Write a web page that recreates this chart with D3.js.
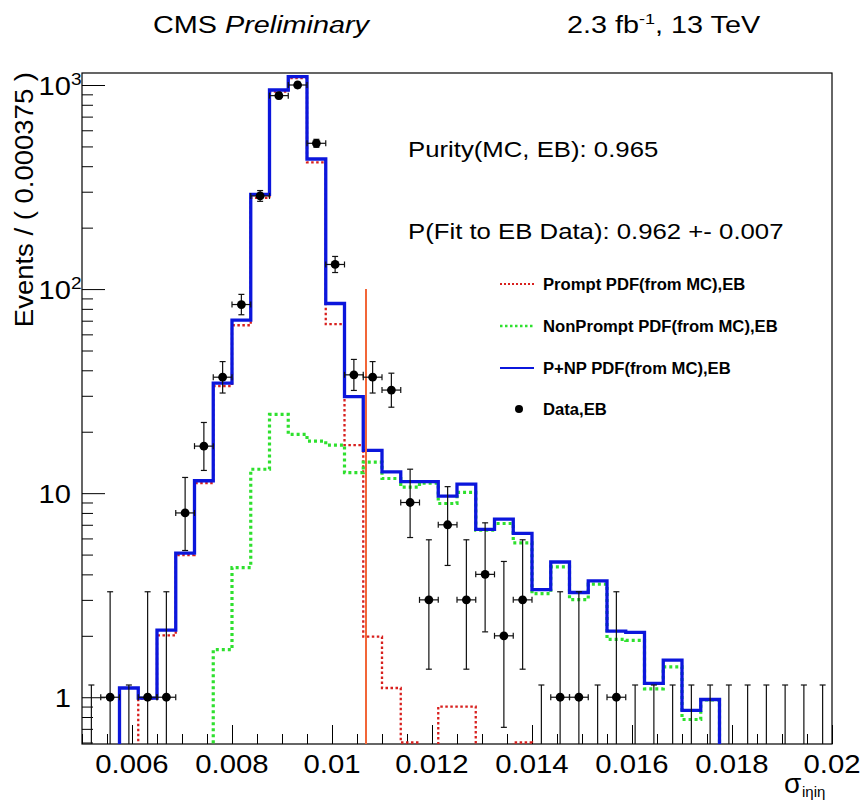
<!DOCTYPE html>
<html>
<head>
<meta charset="utf-8">
<script src="https://cdn.jsdelivr.net/npm/d3@7"></script>
<style>
  body { margin: 0; background: #fff; }
  svg { display: block; }
  text { font-family: "Liberation Sans", Arial, Helvetica, sans-serif; fill: #000; }
</style>
</head>
<body>
<script>
// binning of sigma_ieta_ieta (40 bins of 0.000375)
var xMin = 0.005, xMax = 0.02, binWidth = 0.000375;

// observed events per bin (EB data)
var dataCounts = [0, 1, 0, 1, 1, 8, 17, 37, 84, 286,
  887, 1000, 518, 132, 38, 37, 32, 9, 3, 7,
  3, 4, 2, 3, 0, 1, 1, 0, 1, 0,
  0, 0, 0, 0, 0, 0, 0, 0, 0, 0];

// prompt template (from MC), 0 = below the plot
var promptPdf = [0, 0, 0, 0.985, 2.01, 4.97, 11.2, 33.5, 66.5, 280,
  927, 1080, 418, 67.3, 17.2, 1.98, 1.11, 0.6, 0, 0.9,
  0.9, 0, 0, 0.6, 0, 0, 0, 0, 0, 0,
  0, 0, 0, 0, 0, 0, 0, 0, 0, 0];

// non-prompt template (from MC)
var nonPromptPdf = [0, 0, 0, 0, 0, 0, 0, 1.71, 4.32, 13.1,
  24.3, 19.4, 18.0, 17.2, 12.6, 14.2, 11.8, 10.7, 11.2, 8.9,
  10.1, 6.59, 7.1, 5.71, 3.22, 4.35, 3.01, 3.58, 1.92, 1.9,
  1.1, 1.41, 0.778, 0.97, 0, 0, 0, 0, 0, 0];

// P+NP fit
var totalPdf = [0, 0, 1.11, 0.99, 2.13, 5.08, 11.5, 34.6, 70.5, 291,
  945, 1099, 434, 85, 29.7, 16.2, 12.7, 11.4, 11.4, 9.67,
  11.07, 6.64, 7.46, 6.35, 3.37, 4.6, 3.26, 3.72, 2.11, 2.08,
  1.17, 1.52, 0.863, 0.975, 0, 0, 0, 0, 0, 0];

var xMajorTicks = [0.006, 0.008, 0.01, 0.012, 0.014, 0.016, 0.018, 0.02];
var xTickLabels = ["0.006", "0.008", "0.01", "0.012", "0.014", "0.016", "0.018", "0.02"];
var yTickValues = [1, 10, 100, 1000];
var yTickBase = ["1", "10", "10", "10"];
var yTickSup = ["", "", "2", "3"];

var cutValue = 0.01068, cutTop = 100;

var legendLabels = ["Prompt PDF(from MC),EB", "NonPrompt PDF(from MC),EB", "P+NP PDF(from MC),EB", "Data,EB"];

var W = 864, H = 805;
var margin = { top: 73, right: 32, bottom: 61, left: 82 };

var x = d3.scaleLinear().domain([xMin, xMax]).range([margin.left, W - margin.right]);
var y = d3.scaleLog().domain([0.59, 1145]).range([H - margin.bottom, margin.top]);

var svg = d3.select("body").append("svg").attr("width", W).attr("height", H);

svg.append("clipPath").attr("id", "plotclip")
  .append("rect")
  .attr("x", margin.left).attr("y", margin.top)
  .attr("width", W - margin.left - margin.right)
  .attr("height", H - margin.top - margin.bottom);

// text helper: the reference font is a bit wider than Helvetica, so stretch in x
function addText(parent, px, py, str, opts) {
  opts = opts || {};
  var g = parent.append("g")
    .attr("transform", "translate(" + px + "," + py + ")" +
      (opts.rotate ? " rotate(" + opts.rotate + ")" : "") +
      " scale(" + (opts.sx || 1.15) + ",1)");
  return g.append("text")
    .attr("text-anchor", opts.anchor || "start")
    .attr("font-size", opts.size || 20)
    .attr("font-weight", opts.weight || "normal")
    .attr("font-style", opts.style || "normal")
    .text(str);
}

// ---- axes (ticks only, frame drawn separately) ----
var yMinor = [];
[0.1, 1, 10, 100, 1000].forEach(function(d) {
  for (var k = 2; k <= 9; k++) {
    var v = k * d;
    if (v > 0.59 && v < 1145) yMinor.push(v);
  }
});
var xMinor = d3.range(0, 31).map(function(i) { return xMin + i * 0.0005; })
  .filter(function(v) { return Math.abs(v / 0.002 - Math.round(v / 0.002)) > 1e-6; });

function tickAxis(axis) {
  var g = svg.append("g").call(axis);
  g.select(".domain").remove();
  g.selectAll("line").attr("stroke", "#000").attr("stroke-width", 1);
  return g;
}

tickAxis(d3.axisLeft(y).tickValues(yTickValues).tickSize(-23).tickFormat(""))
  .attr("transform", "translate(" + margin.left + ",0)");
tickAxis(d3.axisLeft(y).tickValues(yMinor).tickSize(-11).tickFormat(""))
  .attr("transform", "translate(" + margin.left + ",0)");
tickAxis(d3.axisBottom(x).tickValues(xMajorTicks).tickSize(-19).tickFormat(""))
  .attr("transform", "translate(0," + (H - margin.bottom) + ")");
tickAxis(d3.axisBottom(x).tickValues(xMinor).tickSize(-10).tickFormat(""))
  .attr("transform", "translate(0," + (H - margin.bottom) + ")");

// frame
svg.append("rect")
  .attr("x", margin.left).attr("y", margin.top)
  .attr("width", W - margin.left - margin.right)
  .attr("height", H - margin.top - margin.bottom)
  .attr("fill", "none").attr("stroke", "#000").attr("stroke-width", 1.2);

// tick labels
xMajorTicks.forEach(function(v, i) {
  addText(svg, x(v), 773, xTickLabels[i], { anchor: "middle", size: 25.5, sx: 1.15 });
});
yTickValues.forEach(function(v, i) {
  addText(svg, 71, y(v) + 9.5, yTickBase[i], { anchor: "end", size: 26, sx: 1.12 });
  if (yTickSup[i]) addText(svg, 71, y(v), yTickSup[i], { size: 17, sx: 1.12 });
});

// axis titles
addText(svg, 33, 72, "Events / ( 0.000375 )", { anchor: "end", size: 25, sx: 1.1, rotate: -90 });
addText(svg, 784, 793, "σ", { size: 28, sx: 1.0 });
addText(svg, 802, 797, "iηiη", { size: 15, sx: 1.0 });

// header
var t1 = addText(svg, 153, 33, "CMS ", { size: 24, sx: 1.2 });
t1.append("tspan").attr("font-style", "italic").text("Preliminary");
var t2 = addText(svg, 567, 33, "2.3 fb", { size: 24, sx: 1.2 });
t2.append("tspan").attr("font-size", 15).attr("dy", -9).text("-1");
t2.append("tspan").attr("dy", 9).text(", 13 TeV");

// ---- template curves ----
var plot = svg.append("g").attr("clip-path", "url(#plotclip)");

function stepPoints(vals) {
  var pts = vals.map(function(v, i) { return [xMin + i * binWidth, v]; });
  pts.push([xMax, vals[vals.length - 1]]);
  return pts;
}
var stepLine = d3.line()
  .x(function(d) { return x(d[0]); })
  .y(function(d) { return y(Math.max(d[1], 0.2)); })
  .curve(d3.curveStepAfter);

plot.append("path").datum(stepPoints(promptPdf))
  .attr("d", stepLine).attr("fill", "none")
  .attr("stroke", "#d8201e").attr("stroke-width", 2.3).attr("stroke-dasharray", "2.5,2.5");
plot.append("path").datum(stepPoints(nonPromptPdf))
  .attr("d", stepLine).attr("fill", "none")
  .attr("stroke", "#2ee02e").attr("stroke-width", 3.2).attr("stroke-dasharray", "3,3");
plot.append("path").datum(stepPoints(totalPdf))
  .attr("d", stepLine).attr("fill", "none")
  .attr("stroke", "#0b16dc").attr("stroke-width", 3.3);

// cut line
plot.append("line")
  .attr("x1", x(cutValue)).attr("x2", x(cutValue))
  .attr("y1", y(cutTop)).attr("y2", H - margin.bottom)
  .attr("stroke", "#f26638").attr("stroke-width", 2);

// ---- data with poisson errors ----
function poisson(n) {
  if (n === 0) return [0, 1.148];
  var lo = n * Math.pow(1 - 1 / (9 * n) - 1 / (3 * Math.sqrt(n)), 3);
  var m = n + 1;
  var hi = m * Math.pow(1 - 1 / (9 * m) + 1 / (3 * Math.sqrt(m)), 3);
  return [lo, hi];
}
var points = dataCounts.map(function(n, i) {
  var e = poisson(n);
  return { xc: xMin + (i + 0.5) * binWidth, n: n, lo: e[0], hi: e[1] };
});

var pts = plot.append("g").selectAll("g").data(points).enter().append("g");
var cap = 3;
pts.append("line")
  .attr("x1", function(d) { return x(d.xc); }).attr("x2", function(d) { return x(d.xc); })
  .attr("y1", function(d) { return y(Math.max(d.lo, 0.2)); })
  .attr("y2", function(d) { return y(d.hi); });
pts.append("line")
  .attr("x1", function(d) { return x(d.xc) - cap; }).attr("x2", function(d) { return x(d.xc) + cap; })
  .attr("y1", function(d) { return y(d.hi); }).attr("y2", function(d) { return y(d.hi); });
pts.filter(function(d) { return d.lo > 0; }).append("line")
  .attr("x1", function(d) { return x(d.xc) - cap; }).attr("x2", function(d) { return x(d.xc) + cap; })
  .attr("y1", function(d) { return y(d.lo); }).attr("y2", function(d) { return y(d.lo); });
var withData = pts.filter(function(d) { return d.n > 0; });
withData.append("line")
  .attr("x1", function(d) { return x(d.xc - binWidth / 2); })
  .attr("x2", function(d) { return x(d.xc + binWidth / 2); })
  .attr("y1", function(d) { return y(d.n); }).attr("y2", function(d) { return y(d.n); });
withData.append("line")
  .attr("x1", function(d) { return x(d.xc - binWidth / 2); })
  .attr("x2", function(d) { return x(d.xc - binWidth / 2); })
  .attr("y1", function(d) { return y(d.n) - cap; }).attr("y2", function(d) { return y(d.n) + cap; });
withData.append("line")
  .attr("x1", function(d) { return x(d.xc + binWidth / 2); })
  .attr("x2", function(d) { return x(d.xc + binWidth / 2); })
  .attr("y1", function(d) { return y(d.n) - cap; }).attr("y2", function(d) { return y(d.n) + cap; });
pts.selectAll("line").attr("stroke", "#111").attr("stroke-width", 1.2);
withData.append("circle")
  .attr("cx", function(d) { return x(d.xc); })
  .attr("cy", function(d) { return y(d.n); })
  .attr("r", 4.4).attr("fill", "#000");

// ---- fit results text ----
addText(svg, 408, 157, "Purity(MC, EB): 0.965", { size: 22, sx: 1.17 });
addText(svg, 408, 239, "P(Fit to EB Data): 0.962 +- 0.007", { size: 22, sx: 1.17 });

// ---- legend ----
var legendY = [284, 326, 368, 409];
var legend = svg.append("g");
legend.append("line").attr("x1", 500).attr("x2", 534).attr("y1", legendY[0]).attr("y2", legendY[0])
  .attr("stroke", "#d8201e").attr("stroke-width", 2).attr("stroke-dasharray", "2,2");
legend.append("line").attr("x1", 500).attr("x2", 534).attr("y1", legendY[1]).attr("y2", legendY[1])
  .attr("stroke", "#2ee02e").attr("stroke-width", 2.5).attr("stroke-dasharray", "2.5,2.5");
legend.append("line").attr("x1", 500).attr("x2", 534).attr("y1", legendY[2]).attr("y2", legendY[2])
  .attr("stroke", "#0b16dc").attr("stroke-width", 2);
legend.append("circle").attr("cx", 519).attr("cy", legendY[3]).attr("r", 4).attr("fill", "#000");
legendLabels.forEach(function(s, i) {
  addText(legend, 543, legendY[i] + 6, s, { size: 16, weight: "bold", sx: 1.04 });
});
</script>
</body>
</html>
